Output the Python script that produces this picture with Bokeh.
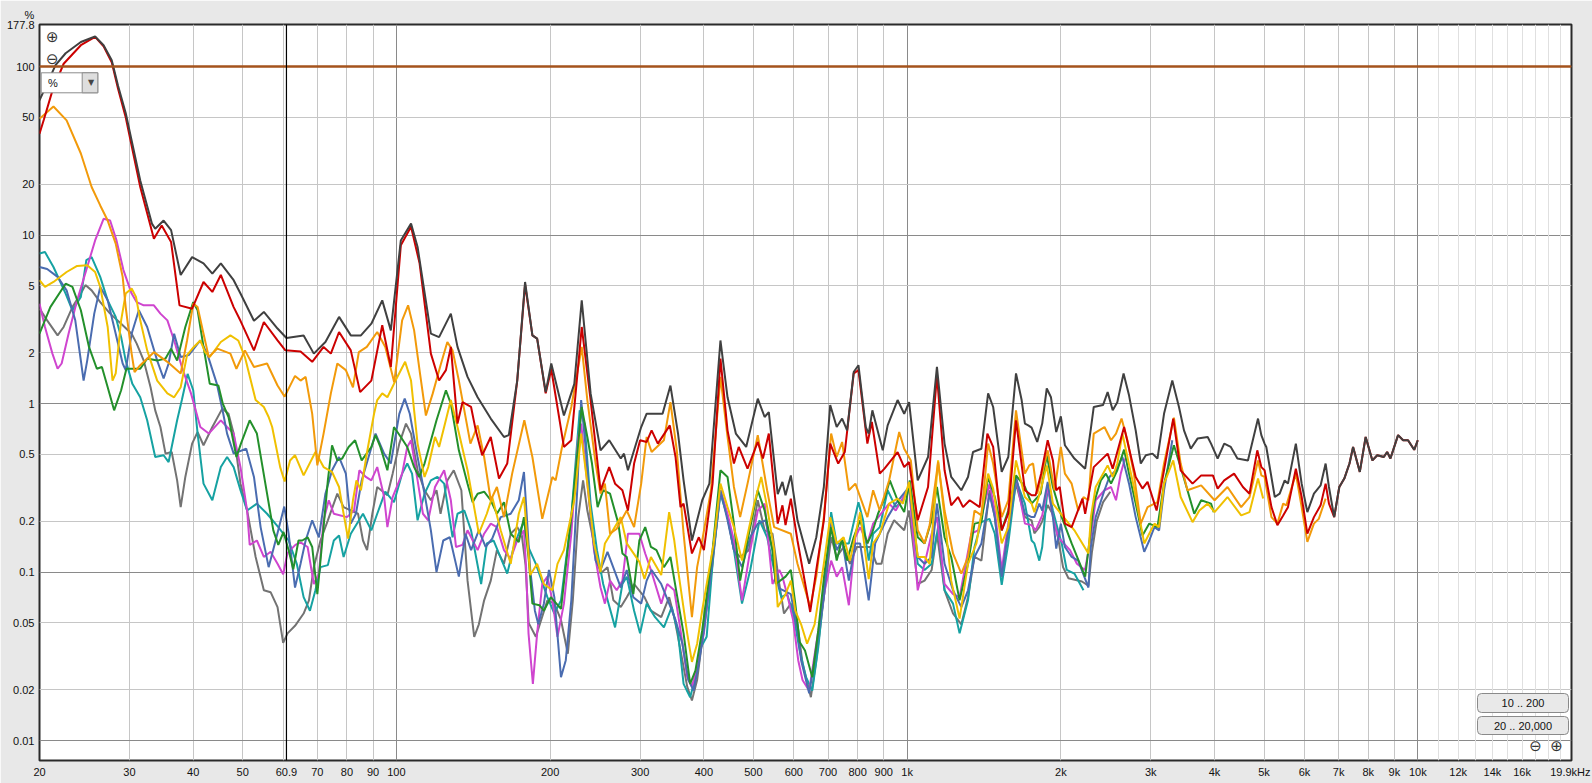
import math
from bokeh.plotting import figure
from bokeh.models import Range1d, FixedTicker, Grid, Span, Label, BoxAnnotation
from bokeh.embed import file_html
from bokeh.resources import INLINE

# ---------------- data (frequency in Hz, distortion in %) ----------------
thd_f = [20, 21.5, 22.5, 24.1, 25.7, 26.7, 27.7, 28.5, 29.5, 31.5, 33.2, 33.7, 35.0, 36.2, 37.8, 39.8, 41.9, 43.6, 45.3, 48.0,
         49.5, 52.6, 55.0, 58.5, 60.9, 65.8, 68.9, 72.6, 77.2, 81.4, 85.2, 89.3, 93.8, 97.5, 102, 106.8, 110, 116.8, 121.2, 127.8,
         131.7, 137.8, 144.2, 153, 162.4, 166, 172.4, 178.6, 184.6, 188.6, 196, 201, 212.8, 223, 230.6, 240, 251, 261, 275, 279,
         284, 301.5, 309, 332, 344, 356, 365, 379, 397, 410, 431, 445, 462, 484, 510, 526, 536, 558, 570, 578,
         592, 610, 643, 664, 687, 707, 728, 746, 763, 786, 803, 830, 841, 855, 896, 916, 958, 987, 1009, 1049,
         1099, 1144, 1184, 1220, 1277, 1316, 1346, 1398, 1441, 1474, 1532, 1578, 1634, 1676, 1701, 1727, 1753, 1798, 1839, 1877,
         1913, 1959, 2000, 2037, 2126, 2232, 2290, 2320, 2419, 2470, 2527, 2580, 2654, 2720, 2803, 2868, 2934, 3024, 3092, 3185,
         3306, 3407, 3485, 3593, 3704, 3878, 3937, 4056, 4178, 4304, 4434, 4650, 4866, 4939, 5012, 5051, 5248, 5365, 5488, 5570,
         5771, 5924, 6078, 6261, 6452, 6600, 6700, 6860, 7020, 7180, 7350, 7470, 7700, 7906, 8150, 8330, 8580, 8710, 8840, 9150,
         9360, 9570, 9840, 10000]
thd_v = [63, 102, 120, 140, 151, 134, 109, 77, 53, 21.1, 11.7, 10.9, 12.2, 10.7, 5.8, 7.4, 6.8, 5.9, 6.8, 5.4,
         4.5, 3.1, 3.5, 2.79, 2.45, 2.54, 1.98, 2.32, 3.27, 2.54, 2.54, 2.98, 4.1, 2.72, 9.3, 11.7, 8.5, 2.6, 2.48, 3.42,
         2.17, 1.44, 1.09, 0.815, 0.634, 0.65, 1.37, 5.27, 2.54, 2.43, 1.17, 1.73, 0.85, 1.31, 4.1, 1.15, 0.528, 0.606, 0.472, 0.505,
         0.402, 0.726, 0.872, 0.87, 1.28, 0.664, 0.35, 0.154, 0.267, 0.335, 2.37, 1.09, 0.664, 0.553, 1.07, 0.833, 0.89, 0.29, 0.343, 0.286,
         0.375, 0.203, 0.112, 0.161, 0.32, 0.98, 0.726, 0.815, 0.694, 1.54, 1.69, 0.726, 0.664, 0.912, 0.528, 0.743, 1.05, 0.87, 1.02, 0.35,
         0.482, 1.65, 0.579, 0.367, 0.306, 0.367, 0.516, 0.54, 1.15, 0.955, 0.393, 0.482, 1.51, 1.05, 0.761, 0.743, 0.72, 0.592, 0.761, 1.23,
         1.09, 0.678, 0.84, 0.566, 0.472, 0.411, 0.71, 0.955, 0.98, 1.17, 0.912, 1.02, 1.51, 1.12, 0.694, 0.441, 0.494, 0.505, 0.472, 0.87,
         1.37, 0.955, 0.694, 0.54, 0.62, 0.634, 0.579, 0.472, 0.579, 0.553, 0.472, 0.46, 0.815, 0.65, 0.579, 0.553, 0.279, 0.292, 0.35, 0.335,
         0.579, 0.335, 0.227, 0.292, 0.327, 0.441, 0.32, 0.212, 0.32, 0.359, 0.441, 0.553, 0.393, 0.634, 0.46, 0.494, 0.482, 0.516, 0.472, 0.65,
         0.606, 0.606, 0.532, 0.606]

h2_f = [20, 20.4, 21.2, 22.3, 24.1, 25.7, 26.7, 27.7, 28.5, 29.5, 31.5, 33.5, 34.7, 36.2, 37.6, 39.8, 41.9, 43.6, 45.3, 48.0,
        49.5, 52.6, 55.0, 58.5, 60.6, 64.9, 68.4, 72.0, 74.4, 77.2, 81.4, 84.9, 89.3, 93.8, 97.5, 102, 106.8, 111, 116.8, 121.2,
        125, 127.8, 131.7, 134.7, 140, 143, 147.2, 153, 158.8, 164.8, 172.4, 178.6, 184.6, 188.6, 196, 201, 212.8, 220, 230.6, 240,
        251, 261, 268, 277, 284, 292, 300, 309, 316, 325, 343, 352, 360, 365, 379, 391, 400, 416, 431, 445,
        458, 468, 487, 510, 522, 536, 558, 570, 578, 592, 610, 646, 664, 687, 707, 733, 755, 786, 803, 836,
        853, 884, 903, 958, 987, 1009, 1049, 1099, 1144, 1184, 1220, 1258, 1287, 1326, 1387, 1436, 1474, 1532, 1578, 1634,
        1701, 1753, 1785, 1830, 1885, 1930, 1959, 1990, 2037, 2100, 2205, 2232, 2320, 2470, 2527, 2660, 2803, 2890, 2957, 3080,
        3185, 3320, 3433, 3622, 3766, 3970, 4056, 4178, 4368, 4546, 4683, 4850, 4939, 5012, 5170, 5310, 5450, 5570, 5771, 5924,
        6078, 6261, 6452, 6600, 6700, 6860, 7020, 7180, 7350, 7470, 7700, 7906, 8150, 8330, 8580, 8710, 8840, 9150, 9360, 9570,
        9840, 10000]
h2_v = [40, 48.5, 72, 104, 134, 150, 132, 106, 74, 50, 19.3, 9.5, 11.4, 9.1, 3.83, 3.66, 5.27, 4.6, 5.8, 3.74,
        3.1, 2.07, 3.05, 2.37, 2.07, 2.04, 1.77, 2.17, 1.98, 2.66, 2.07, 1.17, 1.37, 2.92, 1.65, 8.7, 11.2, 6.8, 1.98, 1.37,
        1.58, 2.17, 0.761, 1.02, 0.955, 0.694, 0.494, 0.634, 0.359, 0.441, 1.37, 5.1, 2.54, 2.43, 1.15, 1.6, 0.553, 0.606, 2.85, 1.05,
        0.306, 0.42, 0.335, 0.306, 0.232, 0.441, 0.606, 0.592, 0.694, 0.579, 0.743, 0.482, 0.243, 0.255, 0.129, 0.161, 0.135, 0.335, 1.85, 0.694,
        0.441, 0.553, 0.411, 0.592, 0.472, 0.664, 0.194, 0.249, 0.19, 0.273, 0.154, 0.058, 0.103, 0.203, 0.579, 0.441, 0.516, 1.51, 1.58, 0.579,
        0.778, 0.384, 0.411, 0.516, 0.42, 0.45, 0.203, 0.32, 1.47, 0.402, 0.249, 0.279, 0.243, 0.267, 0.243, 0.664, 0.553, 0.177, 0.222, 0.796,
        0.306, 0.286, 0.286, 0.384, 0.606, 0.46, 0.306, 0.32, 0.194, 0.185, 0.273, 0.222, 0.42, 0.505, 0.411, 0.726, 0.367, 0.313, 0.343, 0.232,
        0.402, 0.815, 0.402, 0.335, 0.375, 0.375, 0.313, 0.35, 0.384, 0.32, 0.292, 0.528, 0.42, 0.402, 0.243, 0.19, 0.217, 0.243, 0.411, 0.279,
        0.169, 0.212, 0.249, 0.335, 0.255, 0.212, 0.32, 0.359, 0.441, 0.553, 0.393, 0.634, 0.46, 0.494, 0.482, 0.516, 0.472, 0.65, 0.606, 0.606,
        0.532, 0.606]

h3_f = [20, 21.3, 22.6, 24.1, 25.3, 26.3, 27.2, 28.2, 29.1, 29.5, 30.3, 30.7, 31.5, 33.5, 35.6, 37.8, 38.9, 40.0, 40.8, 41.9,
        42.9, 44.6, 47.3, 48.6, 50.5, 52.6, 55.8, 58.5, 60.4, 63.3, 64.9, 66.4, 68.4, 70.0, 72.0, 74.4, 76.6, 79.6, 82.2, 84.4,
        87.5, 91.7, 95.1, 99.0, 102.6, 105.4, 108.3, 111.2, 114.2, 117.8, 122, 125.8, 128.8, 132.5, 139.6, 144.2, 148.5, 153, 157.3, 162.4,
        168.5, 178, 184.6, 193, 202, 205, 211, 220, 230.6, 236.5, 245.5, 251, 256, 262, 270, 282.5, 292, 301.5, 309, 316,
        334, 344, 354, 365, 379, 388, 397, 413, 431, 445, 458, 471, 487, 510, 532, 549, 592, 610, 646, 664,
        687, 710, 728, 746, 769, 792, 836, 858, 884, 922, 965, 987, 1017, 1049, 1082, 1107, 1150, 1184, 1230, 1277,
        1316, 1355, 1398, 1441, 1474, 1532, 1578, 1634, 1701, 1735, 1765, 1798, 1885, 1944, 2000, 2037, 2100, 2163, 2215, 2265,
        2290, 2320, 2435, 2508, 2565, 2630, 2700, 2780, 2868, 2957, 3092, 3185, 3330, 3433, 3540, 3766, 4000, 4240, 4510, 4683,
        4866, 4939, 5012, 5170, 5310, 5450, 5530, 5771, 5924, 6078, 6261, 6400, 6600]
h3_v = [49, 58, 48, 30.5, 19.3, 15.0, 12.2, 8.9, 5.65, 3.74, 1.98, 1.54, 1.69, 2.02, 1.77, 1.51, 2.37, 3.92, 3.74, 2.6,
        1.89, 2.12, 1.98, 1.61, 2.07, 1.65, 1.73, 1.28, 1.1, 1.46, 1.37, 1.44, 0.87, 0.43, 0.664, 1.15, 1.73, 1.58, 1.25, 2.02,
        2.17, 2.66, 2.17, 1.34, 3.12, 3.83, 2.72, 1.51, 0.85, 1.15, 1.69, 2.32, 2.07, 1.37, 0.579, 0.743, 0.482, 0.267, 0.32, 0.212,
        0.384, 0.796, 0.482, 0.207, 0.367, 0.35, 0.553, 0.955, 2.17, 1.05, 0.441, 0.292, 0.335, 0.169, 0.181, 0.232, 0.185, 0.335, 0.634, 0.516,
        0.606, 1.02, 0.528, 0.169, 0.054, 0.107, 0.154, 0.306, 1.44, 0.634, 0.32, 0.212, 0.335, 0.65, 0.306, 0.185, 0.169, 0.112, 0.062, 0.094,
        0.212, 0.664, 0.482, 0.592, 0.306, 0.335, 0.212, 0.306, 0.232, 0.35, 0.678, 0.54, 0.46, 0.177, 0.148, 0.19, 0.45, 0.232, 0.129, 0.098,
        0.123, 0.232, 0.217, 0.579, 0.441, 0.212, 0.267, 0.912, 0.384, 0.43, 0.441, 0.292, 0.528, 0.306, 0.553, 0.384, 0.335, 0.232, 0.279, 0.267,
        0.42, 0.664, 0.726, 0.606, 0.664, 0.815, 0.606, 0.384, 0.194, 0.243, 0.26, 0.441, 0.826, 0.441, 0.306, 0.327, 0.267, 0.32, 0.243, 0.279,
        0.46, 0.375, 0.367, 0.212, 0.194, 0.255, 0.249, 0.384, 0.243, 0.151, 0.194, 0.207, 0.273]

h4_f = [20, 20.5, 21.3, 22.6, 23.7, 24.8, 25.7, 26.3, 27.2, 27.8, 28.2, 28.9, 29.5, 30.3, 30.9, 31.5, 32.5, 34.0, 35.6, 36.7,
        37.8, 38.9, 40.1, 41.3, 42.2, 43.1, 45.3, 47.3, 49.0, 50.5, 53.0, 55.0, 56.2, 57.1, 59.2, 60.4, 61.9, 63.3, 65.8, 69.4,
        72.0, 74.8, 77.2, 78.8, 80.4, 82.2, 83.5, 85.2, 87.6, 90.4, 91.7, 93.8, 96, 99.6, 104, 106.8, 110, 113.5, 115.4, 119,
        121.2, 124, 127.8, 131.7, 137.8, 145, 150.3, 154, 160, 167.4, 173.6, 177.7, 182.8, 188.6, 194.4, 202, 206.7, 212.8, 223, 230,
        236.5, 243.7, 251, 256, 275, 282.5, 299, 306, 315, 330, 342, 350, 356, 371, 379, 388, 397, 418, 431, 445,
        458, 475, 502, 518, 532, 549, 558, 578, 592, 604, 620, 637, 659, 687, 707, 728, 751, 773, 809, 841,
        858, 884, 922, 958, 981, 1009, 1049, 1082, 1107, 1150, 1184, 1220, 1267, 1316, 1367, 1441, 1474, 1532, 1578, 1634,
        1701, 1753, 1775, 1826, 1877, 1930, 2000, 2126, 2265, 2290, 2340, 2470, 2527, 2580, 2640, 2700, 2780, 2913, 3050, 3115,
        3185, 3320, 3433, 3622, 3735, 3878, 4000, 4240, 4510, 4683, 4866, 4980]
h4_v = [5.4, 4.93, 5.27, 6.04, 6.56, 6.63, 6.04, 4.93, 2.85, 1.37, 1.51, 3.12, 4.5, 4.82, 4.3, 3.12, 2.07, 1.37, 1.15, 1.09,
        1.25, 1.94, 2.17, 2.37, 2.02, 1.89, 2.32, 2.54, 2.37, 1.89, 1.05, 0.955, 0.833, 0.726, 0.42, 0.345, 0.46, 0.494, 0.375, 0.516,
        0.42, 0.393, 0.32, 0.222, 0.158, 0.267, 0.35, 0.306, 0.516, 0.87, 1.05, 1.15, 1.09, 1.37, 1.77, 1.37, 0.579, 0.367, 0.42, 0.634,
        0.553, 0.726, 1.05, 0.726, 0.402, 0.169, 0.222, 0.279, 0.177, 0.112, 0.222, 0.279, 0.096, 0.112, 0.085, 0.078, 0.112, 0.135, 0.267, 0.664,
        0.335, 0.148, 0.1, 0.148, 0.212, 0.148, 0.115, 0.091, 0.123, 0.096, 0.227, 0.154, 0.103, 0.0433, 0.0293, 0.0376, 0.0594, 0.148, 0.335, 0.243,
        0.185, 0.117, 0.255, 0.367, 0.243, 0.135, 0.062, 0.074, 0.089, 0.059, 0.049, 0.0376, 0.049, 0.112, 0.212, 0.148, 0.161, 0.117, 0.227, 0.091,
        0.148, 0.169, 0.255, 0.273, 0.255, 0.343, 0.123, 0.123, 0.112, 0.46, 0.212, 0.089, 0.053, 0.112, 0.148, 0.384, 0.313, 0.148, 0.185, 0.46,
        0.279, 0.255, 0.227, 0.306, 0.43, 0.255, 0.222, 0.177, 0.129, 0.212, 0.32, 0.43, 0.367, 0.441, 0.664, 0.482, 0.32, 0.148, 0.194, 0.185,
        0.335, 0.46, 0.279, 0.198, 0.232, 0.255, 0.227, 0.279, 0.217, 0.227, 0.359, 0.273]

h5_f = [20, 21, 22.5, 23.2, 24.1, 25.0, 25.9, 26.5, 27.2, 28.0, 28.9, 29.6, 31.5, 32.5, 34.0, 35.3, 36.2, 37.2, 38.6, 40.0,
        40.8, 41.9, 43.1, 44.8, 45.7, 46.9, 48.6, 49.6, 51.6, 53.3, 55.8, 57.4, 58.7, 60.1, 61.5, 62.8, 64.3, 65.4, 67.0, 68.4,
        70.0, 71.6, 73.4, 74.8, 76.6, 78.3, 80.6, 83.0, 85.5, 89.3, 91.0, 93.0, 96, 98.9, 102, 105, 108.3, 110.8, 113.5, 119.8,
        125, 127.8, 132.5, 137.8, 141, 144.2, 148.5, 153, 157.3, 162.4, 167.4, 173.6, 177.7, 181.4, 184.6, 190.5, 194.4, 200.6, 210, 220,
        227, 230.5, 236.5, 241.5, 247.7, 254, 262, 272, 277, 282.5, 291, 299, 307, 315, 323, 334, 344, 354, 365, 376,
        385, 397, 416, 431, 445, 458, 471, 487, 510, 526, 545, 553, 578, 592, 604, 616, 631, 652, 670, 690,
        710, 728, 746, 763, 786, 809, 836, 853, 877, 903, 925, 958, 987, 1012, 1049, 1082, 1117, 1144, 1184, 1220,
        1267, 1316, 1355, 1398, 1441, 1485, 1532, 1578, 1634, 1701, 1753, 1826, 1877, 1930, 2008, 2100, 2180, 2232, 2280, 2320,
        2395, 2450, 2508, 2580, 2660, 2720, 2803, 2890, 2980, 3092, 3185, 3330, 3433, 3540, 3650, 3766, 3937, 3985]
h5_v = [2.6, 3.74, 5.15, 4.93, 3.58, 2.17, 1.61, 1.65, 1.25, 0.912, 1.2, 1.61, 1.61, 1.85, 1.8, 1.85, 2.12, 1.8, 2.85, 4.0,
        3.58, 2.17, 1.31, 1.28, 1.0, 0.833, 0.482, 0.579, 0.796, 0.664, 0.292, 0.177, 0.145, 0.173, 0.135, 0.104, 0.154, 0.154, 0.161, 0.141,
        0.074, 0.154, 0.35, 0.566, 0.46, 0.472, 0.553, 0.606, 0.46, 0.553, 0.65, 0.553, 0.402, 0.726, 0.634, 0.553, 0.42, 0.367, 0.441, 0.796,
        1.2, 1.0, 0.528, 0.335, 0.26, 0.292, 0.3, 0.267, 0.222, 0.26, 0.169, 0.151, 0.212, 0.123, 0.065, 0.0636, 0.059, 0.071, 0.0605, 0.212,
        0.579, 0.955, 0.634, 0.441, 0.243, 0.306, 0.292, 0.194, 0.129, 0.123, 0.074, 0.154, 0.185, 0.141, 0.135, 0.107, 0.123, 0.074, 0.0433, 0.0217,
        0.026, 0.0452, 0.135, 0.402, 0.367, 0.194, 0.089, 0.154, 0.306, 0.232, 0.135, 0.085, 0.094, 0.103, 0.065, 0.0385, 0.0343, 0.0238, 0.0452, 0.103,
        0.185, 0.117, 0.158, 0.117, 0.161, 0.203, 0.148, 0.169, 0.222, 0.273, 0.35, 0.267, 0.227, 0.35, 0.161, 0.148, 0.203, 0.32, 0.161, 0.123,
        0.068, 0.112, 0.194, 0.198, 0.367, 0.279, 0.177, 0.232, 0.375, 0.32, 0.255, 0.292, 0.494, 0.32, 0.212, 0.148, 0.112, 0.094, 0.161, 0.255,
        0.35, 0.384, 0.335, 0.402, 0.533, 0.384, 0.255, 0.165, 0.194, 0.185, 0.335, 0.566, 0.42, 0.306, 0.222, 0.267, 0.255, 0.227]

h6_f = [20, 20.7, 21.7, 22.6, 23.5, 24.1, 24.4, 24.8, 25.6, 26.3, 27.2, 28.2, 29.1, 29.5, 30.3, 31.3, 32.5, 34.0, 35.0, 35.8,
        36.7, 37.8, 39.2, 41.3, 42.6, 44.5, 45.8, 46.6, 48.0, 50.8, 52.6, 54.2, 56.2, 58.0, 60.3, 61.5, 63.3, 64.9, 66.4, 68.4,
        70.5, 72.6, 74.8, 77.2, 79.6, 81.4, 83.3, 85.5, 88.2, 91.0, 94.6, 97.5, 101.3, 103.8, 106.2, 110, 113.5, 116.8, 119.8, 123.5,
        127.2, 132.5, 136.5, 140, 145, 149.5, 154, 160, 167.4, 173.6, 177.7, 182.8, 186.7, 189.6, 194.4, 198.9, 203.8, 210, 214.6, 220,
        226.3, 230, 235, 240, 245.5, 251, 259, 275, 282.5, 291, 301.5, 309, 316, 330, 342, 352, 363, 373, 382, 391,
        400, 418, 431, 445, 458, 475, 493, 510, 528, 545, 562, 592, 610, 620, 643, 659, 687, 710, 728, 746,
        769, 792, 809, 841, 866, 916, 950, 1009, 1049, 1082, 1117, 1144, 1184, 1230, 1277, 1316, 1355, 1398, 1450, 1485,
        1532, 1578, 1634, 1701, 1753, 1775, 1815, 1839, 1885, 1930, 1959, 2000, 2037, 2100, 2163, 2265, 2290, 2340, 2435, 2490,
        2565, 2640, 2720, 2803, 2913, 2980, 3050, 3115, 3185, 3306]
h6_v = [6.47, 6.3, 5.65, 4.7, 3.12, 1.8, 1.37, 1.8, 3.42, 4.93, 4.1, 2.6, 1.73, 1.58, 2.6, 3.58, 2.85, 1.8, 1.41, 1.73,
        2.6, 1.89, 1.94, 2.37, 1.98, 1.31, 0.87, 0.664, 0.505, 0.54, 0.367, 0.185, 0.107, 0.154, 0.245, 0.169, 0.081, 0.112, 0.154, 0.203,
        0.161, 0.292, 0.402, 0.482, 0.384, 0.194, 0.222, 0.35, 0.482, 0.664, 0.505, 0.441, 0.87, 1.07, 0.87, 0.482, 0.292, 0.177, 0.1, 0.154,
        0.161, 0.094, 0.169, 0.135, 0.177, 0.141, 0.158, 0.212, 0.222, 0.267, 0.393, 0.103, 0.059, 0.049, 0.065, 0.103, 0.071, 0.0238, 0.03, 0.068,
        0.335, 1.05, 0.528, 0.212, 0.117, 0.103, 0.132, 0.081, 0.103, 0.071, 0.065, 0.089, 0.103, 0.085, 0.065, 0.052, 0.0376, 0.0229, 0.0198, 0.0287,
        0.0452, 0.135, 0.306, 0.203, 0.135, 0.107, 0.161, 0.194, 0.203, 0.135, 0.08, 0.074, 0.0452, 0.03, 0.0191, 0.03, 0.071, 0.194, 0.135, 0.154,
        0.089, 0.148, 0.148, 0.068, 0.148, 0.212, 0.255, 0.32, 0.123, 0.112, 0.123, 0.255, 0.112, 0.078, 0.062, 0.078, 0.123, 0.148, 0.292, 0.212,
        0.094, 0.177, 0.367, 0.222, 0.212, 0.212, 0.255, 0.232, 0.343, 0.212, 0.138, 0.194, 0.141, 0.123, 0.117, 0.081, 0.141, 0.212, 0.306, 0.367,
        0.402, 0.482, 0.335, 0.212, 0.132, 0.154, 0.185, 0.177, 0.306, 0.606]

h7_f = [20, 20.5, 21.2, 21.7, 22.1, 22.8, 23.7, 24.8, 25.7, 26.7, 27.5, 28.3, 29.2, 30.3, 31.0, 32.0, 33.5, 34.5, 35.6, 36.7,
        38.0, 39.6, 41.3, 42.9, 45.3, 46.6, 48.0, 49.5, 51.0, 51.6, 53.3, 55.0, 56.7, 58.5, 60.0, 61.2, 63.4, 64.9, 67.0, 68.9,
        70.5, 72.0, 73.7, 75.4, 80.0, 82.6, 84.6, 87.1, 89.3, 91.7, 94.6, 96.0, 98.3, 102.6, 105, 106.8, 110, 112.7, 115.4, 119,
        124, 127.8, 130.8, 134.7, 137.8, 144.2, 148.5, 153, 157.3, 162.4, 167.4, 172.4, 177.7, 179.4, 181.4, 185, 188.6, 193, 197.5, 202,
        206.7, 212.8, 220, 227, 230, 236.5, 243.7, 251, 256, 262, 270, 277, 284, 299, 307, 315, 330, 339, 350, 360,
        371, 379, 388, 400, 418, 431, 445, 458, 475, 493, 510, 526, 545, 562, 570, 582, 598, 612, 624, 643,
        664, 690, 710, 728, 746, 769, 792, 809, 836, 858, 922, 950, 1009, 1049, 1082, 1117, 1144, 1184, 1230, 1267,
        1336, 1377, 1450, 1485, 1532, 1578, 1634, 1701, 1753, 1785, 1839, 1885, 1930, 1975, 2085, 2150, 2230, 2280, 2340, 2435,
        2508, 2565, 2620, 2670]
h7_v = [3.92, 2.85, 1.98, 1.61, 1.73, 2.6, 4.1, 6.47, 9.3, 12.5, 12.2, 9.3, 6.2, 4.5, 4.0, 3.83, 3.83, 3.42, 3.12, 2.37,
        1.65, 1.15, 0.726, 0.664, 0.796, 0.726, 0.664, 0.42, 0.232, 0.145, 0.154, 0.123, 0.132, 0.112, 0.097, 0.13, 0.145, 0.15, 0.141, 0.085,
        0.098, 0.203, 0.267, 0.222, 0.212, 0.232, 0.402, 0.367, 0.35, 0.42, 0.279, 0.185, 0.279, 0.384, 0.553, 0.606, 0.35, 0.222, 0.203, 0.32,
        0.402, 0.267, 0.141, 0.145, 0.177, 0.135, 0.169, 0.194, 0.185, 0.135, 0.12, 0.154, 0.177, 0.107, 0.0433, 0.0217, 0.0433, 0.085, 0.094, 0.068,
        0.0413, 0.065, 0.169, 0.634, 0.761, 0.335, 0.135, 0.081, 0.065, 0.089, 0.078, 0.089, 0.169, 0.169, 0.129, 0.103, 0.065, 0.085, 0.078, 0.0452,
        0.0238, 0.0209, 0.0274, 0.0433, 0.148, 0.306, 0.222, 0.154, 0.068, 0.135, 0.232, 0.255, 0.085, 0.103, 0.094, 0.074, 0.052, 0.03, 0.0229, 0.0198,
        0.0376, 0.078, 0.117, 0.094, 0.107, 0.0636, 0.161, 0.185, 0.148, 0.194, 0.255, 0.232, 0.32, 0.078, 0.112, 0.169, 0.212, 0.085, 0.074, 0.071,
        0.169, 0.177, 0.335, 0.232, 0.103, 0.194, 0.367, 0.194, 0.19, 0.177, 0.217, 0.32, 0.212, 0.161, 0.135, 0.112, 0.103, 0.148, 0.267, 0.306,
        0.32, 0.267, 0.384, 0.472]

h8_f = [20, 20.7, 21.7, 22.3, 23.2, 24.1, 24.6, 25.3, 26.3, 27.5, 28.9, 30.3, 31.0, 32.0, 33.0, 33.7, 34.5, 35.3, 36.3, 37.2,
        37.8, 38.6, 39.8, 40.8, 41.9, 43.6, 45.6, 46.9, 48.0, 49.5, 51.0, 53.0, 55.0, 56.7, 58.5, 60.0, 61.2, 63.3, 65.8, 67.4,
        68.9, 71.0, 73.4, 76.6, 78.8, 84.1, 86.0, 87.6, 89.7, 91.7, 96.0, 98.3, 101.3, 104.4, 106.8, 110, 113.5, 116.8, 119.8, 122,
        125.8, 129.5, 134, 137.8, 142, 145, 148.5, 153, 157.3, 162.4, 167.4, 172.4, 176, 179, 181.5, 187.5, 197.5, 203.8, 210, 216.6,
        221.5, 227, 232, 236.5, 243.7, 251, 259, 266, 275, 282.5, 292, 306, 315, 330, 342, 350, 360, 371, 379, 388,
        397, 416, 431, 445, 458, 471, 490, 510, 526, 545, 562, 574, 592, 610, 624, 648, 664, 687, 710, 728,
        751, 773, 797, 847, 871, 891, 916, 943, 987, 1009, 1049, 1082, 1117, 1144, 1184, 1230, 1277, 1316, 1355, 1398,
        1450, 1485, 1532, 1578, 1634, 1701, 1753, 1775, 1815, 1839, 1885, 1930, 1975, 2020, 2070, 2130, 2200, 2265, 2300, 2350,
        2420, 2500]
h8_v = [3.66, 3.12, 2.54, 2.85, 3.74, 4.5, 5.05, 4.7, 4.0, 3.42, 2.98, 2.6, 2.27, 1.8, 1.25, 0.912, 0.726, 0.505, 0.516, 0.35,
        0.243, 0.367, 0.579, 0.678, 0.566, 0.726, 0.934, 0.87, 0.664, 0.335, 0.232, 0.123, 0.078, 0.076, 0.062, 0.038, 0.0433, 0.048, 0.0568, 0.068,
        0.107, 0.154, 0.203, 0.292, 0.243, 0.222, 0.154, 0.135, 0.222, 0.32, 0.286, 0.384, 0.579, 0.761, 0.664, 0.402, 0.306, 0.267, 0.306, 0.222,
        0.35, 0.402, 0.306, 0.089, 0.0413, 0.049, 0.068, 0.089, 0.135, 0.112, 0.169, 0.185, 0.165, 0.11, 0.05, 0.0413, 0.068, 0.065, 0.052, 0.0328,
        0.068, 0.212, 0.35, 0.232, 0.148, 0.098, 0.107, 0.068, 0.062, 0.071, 0.085, 0.071, 0.059, 0.054, 0.071, 0.054, 0.0343, 0.0209, 0.0173, 0.0229,
        0.0394, 0.112, 0.306, 0.212, 0.135, 0.123, 0.135, 0.267, 0.177, 0.169, 0.085, 0.0568, 0.065, 0.049, 0.0287, 0.0181, 0.03, 0.071, 0.161, 0.123,
        0.141, 0.112, 0.141, 0.141, 0.112, 0.112, 0.169, 0.203, 0.177, 0.232, 0.085, 0.089, 0.103, 0.169, 0.078, 0.0568, 0.049, 0.071, 0.123, 0.117,
        0.306, 0.212, 0.094, 0.177, 0.335, 0.212, 0.203, 0.17, 0.185, 0.2, 0.25, 0.22, 0.16, 0.107, 0.092, 0.09, 0.088, 0.083, 0.13, 0.2,
        0.26, 0.3]

h9_f = [20, 20.5, 21.3, 22.5, 23.2, 24.1, 24.7, 25.3, 26.3, 27.2, 28.2, 28.9, 29.5, 30.4, 31.5, 32.5, 33.7, 35.0, 35.8, 37.2,
        38.0, 39.0, 40.0, 40.8, 41.9, 43.6, 45.3, 46.6, 48.0, 49.5, 51.0, 53.3, 55.8, 58.7, 61.5, 63.8, 65.8, 67.7, 69.4, 71.0,
        73.4, 75.4, 77.2, 78.8, 81.4, 86.0, 89.3, 91.7, 95.1, 98.9, 102.6, 105, 107.3, 110, 113.5, 116.8, 120.3, 124, 128.8, 131.7,
        135.8, 140, 146.5, 150.3, 155, 164.8, 169.7, 173.6, 177.7, 181.4, 187.5, 197.5, 203.8, 210, 220, 228.5, 233.5, 240, 247, 254,
        268, 277, 282.5, 292, 300, 309, 321, 334, 346, 356, 365, 376, 385, 395, 405, 418, 431, 445, 458, 475,
        493, 514, 532, 549, 567, 582, 598, 616, 634, 652, 670, 690, 710, 728, 769, 803, 820, 841, 858, 884,
        916, 950, 981, 1009, 1049, 1082, 1117, 1150, 1184, 1230, 1267, 1316, 1355, 1398, 1450, 1485, 1532, 1578, 1634, 1701,
        1753, 1775, 1815, 1839, 1885, 1930, 1975, 2008, 2054, 2126, 2215]
h9_v = [7.77, 7.93, 6.47, 4.5, 3.58, 4.3, 7.1, 7.4, 5.65, 4.1, 3.27, 2.48, 1.8, 1.31, 1.09, 0.796, 0.482, 0.494, 0.45, 0.796,
        1.05, 1.5, 1.2, 0.664, 0.335, 0.267, 0.42, 0.482, 0.42, 0.306, 0.232, 0.255, 0.222, 0.185, 0.154, 0.112, 0.071, 0.059, 0.078, 0.107,
        0.11, 0.154, 0.165, 0.123, 0.169, 0.222, 0.177, 0.222, 0.3, 0.26, 0.384, 0.441, 0.384, 0.203, 0.292, 0.35, 0.367, 0.335, 0.161, 0.222,
        0.232, 0.177, 0.085, 0.148, 0.154, 0.098, 0.141, 0.17, 0.2, 0.14, 0.112, 0.071, 0.0568, 0.068, 0.212, 0.912, 0.761, 0.255, 0.135, 0.085,
        0.047, 0.085, 0.094, 0.059, 0.0433, 0.065, 0.054, 0.047, 0.062, 0.0433, 0.0217, 0.0181, 0.0238, 0.0359, 0.0413, 0.135, 0.292, 0.212, 0.135, 0.065,
        0.103, 0.203, 0.161, 0.103, 0.071, 0.074, 0.057, 0.0343, 0.0238, 0.0198, 0.0359, 0.085, 0.227, 0.148, 0.148, 0.26, 0.203, 0.117, 0.169, 0.185,
        0.306, 0.243, 0.267, 0.32, 0.112, 0.103, 0.112, 0.185, 0.078, 0.065, 0.0433, 0.068, 0.141, 0.198, 0.207, 0.169, 0.084, 0.148, 0.35, 0.255,
        0.154, 0.148, 0.117, 0.141, 0.32, 0.232, 0.177, 0.148, 0.103, 0.098, 0.078]

series = [
    ("H8", h8_f, h8_v, "#737373"),
    ("H9", h9_f, h9_v, "#16a2a2"),
    ("H7", h7_f, h7_v, "#cf45cf"),
    ("H6", h6_f, h6_v, "#4a6cb0"),
    ("H5", h5_f, h5_v, "#23902b"),
    ("H4", h4_f, h4_v, "#f0c000"),
    ("H3", h3_f, h3_v, "#f29a0a"),
    ("H2", h2_f, h2_v, "#cc0000"),
    ("THD", thd_f, thd_v, "#404040"),
]

x_ticks = [20, 30, 40, 50, 60.9, 70, 80, 90, 100, 200, 300, 400, 500, 600, 700, 800, 900,
           1000, 2000, 3000, 4000, 5000, 6000, 7000, 8000, 9000, 10000, 12000, 14000, 16000, 19900]
x_tick_labels = ["20", "30", "40", "50", "60.9", "70", "80", "90", "100", "200", "300", "400", "500", "600", "700", "800", "900",
                 "1k", "2k", "3k", "4k", "5k", "6k", "7k", "8k", "9k", "10k", "12k", "14k", "16k", "19.9kHz"]
y_ticks = [0.01, 0.02, 0.05, 0.1, 0.2, 0.5, 1, 2, 5, 10, 20, 50, 100, 177.8]
y_tick_labels = ["0.01", "0.02", "0.05", "0.1", "0.2", "0.5", "1", "2", "5", "10", "20", "50", "100", "177.8"]
cursor_freq = 60.9
reference_level = 100

# ---------------- figure ----------------
X_MIN, X_MAX = 20, 20000
Y_MIN, Y_MAX = 0.00762, 177.8
FRAME_W, FRAME_H = 1532, 736
PXD_X = FRAME_W / math.log10(X_MAX / X_MIN)
PXD_Y = FRAME_H / math.log10(Y_MAX / Y_MIN)

def xpix(px):   # decoration helper: pixels from frame left -> x position
    return X_MIN * 10 ** (px / PXD_X)

def ypix(py):   # decoration helper: pixels from frame top -> y position
    return Y_MAX / 10 ** (py / PXD_Y)

FONT = "Liberation Sans"

p = figure(width=1592, height=783, x_axis_type="log", y_axis_type="log",
           x_range=Range1d(X_MIN, X_MAX), y_range=Range1d(Y_MIN, Y_MAX),
           output_backend="svg", toolbar_location=None,
           min_border_left=39, min_border_right=21, min_border_top=24, min_border_bottom=23,
           background_fill_color="white", border_fill_color="#e8e8e8")
p.outline_line_color = "#2a2a2a"
p.outline_line_width = 2

# "%" unit above the value axis
p.title.text = "%"
p.title.align = "left"
p.title.offset = -15
p.title.standoff = 7
p.title.text_font = FONT
p.title.text_font_size = "11px"
p.title.text_font_style = "normal"
p.title.text_color = "#111111"

# grids
p.xgrid.ticker = FixedTicker(ticks=[100, 1000, 10000],
                             minor_ticks=[30, 40, 50, 60, 70, 80, 90, 200, 300, 400, 500, 600, 700, 800, 900,
                                          2000, 3000, 4000, 5000, 6000, 7000, 8000, 9000])
p.xgrid.grid_line_color = "#8a8a8a"
p.xgrid.minor_grid_line_color = "#c6c6c6"
p.add_layout(Grid(dimension=0, ticker=FixedTicker(ticks=[11000, 12000, 13000, 14000, 15000, 16000, 17000, 18000, 19000]),
                  grid_line_color="#e0e0e0"))
p.ygrid.ticker = FixedTicker(ticks=[0.01, 0.1, 1, 10, 100], minor_ticks=[0.02, 0.05, 0.2, 0.5, 2, 5, 20, 50])
p.ygrid.grid_line_color = "#8a8a8a"
p.ygrid.minor_grid_line_color = "#c6c6c6"

# axes
for ax in (p.xaxis[0], p.yaxis[0]):
    ax.axis_line_color = None
    ax.major_tick_line_color = None
    ax.minor_tick_line_color = None
    ax.major_tick_out = 0
    ax.major_tick_in = 0
    ax.minor_tick_out = 0
    ax.minor_tick_in = 0
    ax.major_label_text_font = FONT
    ax.major_label_text_font_size = "11px"
    ax.major_label_text_color = "#111111"
    ax.major_label_standoff = 5

p.xaxis.ticker = FixedTicker(ticks=x_ticks)
p.xaxis.major_label_overrides = {t: l for t, l in zip(x_ticks, x_tick_labels)}
p.yaxis.ticker = FixedTicker(ticks=y_ticks)
p.yaxis.major_label_overrides = {t: l for t, l in zip(y_ticks, y_tick_labels)}

# traces
for name, f, v, c in series:
    p.line(f, v, line_color=c, line_width=2)

# reference line and cursor
p.add_layout(Span(location=reference_level, dimension="width", line_color="#a4531c", line_width=2.5))
p.add_layout(Span(location=cursor_freq, dimension="height", line_color="#000000", line_width=1.2))

# zoom icons
for px, py, s in [(12.7, 12, "\u2295"), (12.7, 34.3, "\u2296"), (1496, 721, "\u2296"), (1517, 721, "\u2295")]:
    p.add_layout(Label(x=xpix(px), y=ypix(py), text=s, text_align="center", text_baseline="middle",
                       text_font="DejaVu Sans", text_font_size="15px", text_color="#333333"))

# unit dropdown
p.add_layout(BoxAnnotation(left=xpix(1.7), right=xpix(58.3), top=ypix(48.3), bottom=ypix(68.3),
                           fill_color="white", fill_alpha=1, line_color="#8c8c8c", line_alpha=1, line_width=1))
p.add_layout(BoxAnnotation(left=xpix(42.7), right=xpix(58.3), top=ypix(48.3), bottom=ypix(68.3),
                           fill_color="#dedede", fill_alpha=1, line_color="#8c8c8c", line_alpha=1, line_width=1))
p.add_layout(Label(x=xpix(13.5), y=ypix(58.5), text="%", text_align="center", text_baseline="middle",
                   text_font=FONT, text_font_size="11px", text_color="#111111"))
p.add_layout(Label(x=xpix(51.5), y=ypix(57.5), text="\u25bc", text_align="center", text_baseline="middle",
                   text_font="DejaVu Sans", text_font_size="8px", text_color="#444444"))

# range buttons
for top, bottom, txt in [(669, 688, "10 .. 200"), (692, 710, "20 .. 20,000")]:
    p.add_layout(BoxAnnotation(left=xpix(1438), right=xpix(1529), top=ypix(top), bottom=ypix(bottom),
                               fill_color="#e9e9e9", fill_alpha=1, line_color="#8a8a8a", line_alpha=1,
                               line_width=1, border_radius=4))
    p.add_layout(Label(x=xpix(1483.5), y=ypix((top + bottom) / 2), text=txt, text_align="center",
                       text_baseline="middle", text_font=FONT, text_font_size="11px", text_color="#111111"))

open("out.html", "w").write(file_html(p, INLINE))
